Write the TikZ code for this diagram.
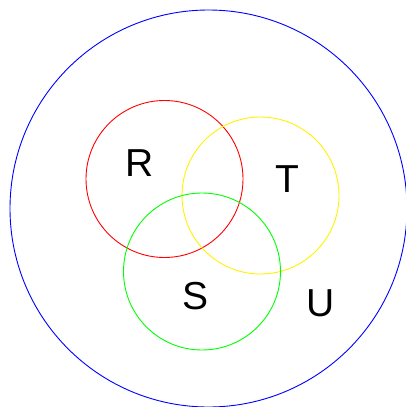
\documentclass[tikz,border=0pt]{standalone}
\usepackage{fontspec}
\setmainfont{Liberation Sans}
\usepackage{tikz}
\usetikzlibrary{positioning}

\begin{document}
\begin{tikzpicture}[x=1pt, y=-1pt, line width=0.9pt]
        \useasboundingbox (0, 0) rectangle (405, 407);
        \tikzset{setlabel/.style={font=\fontsize{39}{40}\selectfont, inner sep=0pt}}
        
        % Universe
        \draw[blue] (208.5, 208.5) circle (198.5);
        
        % Sets
        \draw[red] (164.5, 179) circle (78.5);
        \draw[yellow] (260.5, 195.5) circle (78.5);
        \draw[green] (202, 271.5) circle (78.5);
        
        % Labels
        \node[setlabel] (r) at (140, 163) {R};
        \node[setlabel] (t) at (287, 179) {T};
        \node[setlabel] (s) at (196, 296) {S};
        \node[setlabel] (u) at (321, 303) {U};
    \end{tikzpicture}
\end{document}
